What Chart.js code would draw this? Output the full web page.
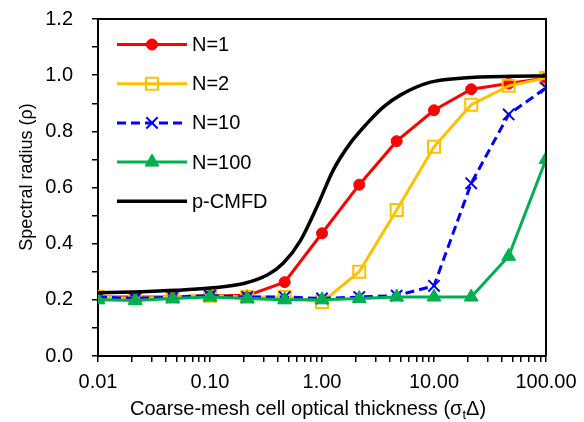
<!DOCTYPE html>
<html><head><meta charset="utf-8">
<script src="https://cdn.jsdelivr.net/npm/chart.js@4/dist/chart.umd.min.js"></script>
<style>html,body{margin:0;padding:0;background:#fff}</style>
</head><body>
<canvas id="c" width="584" height="422"></canvas>
<script>
// ---- data ----
const thickness = [0.01, 0.0215, 0.0464, 0.1, 0.215, 0.464, 1, 2.15, 4.64, 10, 21.5, 46.4, 100];
const rhoN1   = [0.21, 0.21, 0.21, 0.215, 0.215, 0.263, 0.437, 0.61, 0.765, 0.875, 0.95, 0.97, 0.99];
const rhoN2   = [0.21, 0.205, 0.21, 0.215, 0.21, 0.21, 0.192, 0.30, 0.52, 0.745, 0.895, 0.962, 0.99];
const rhoN10  = [0.21, 0.205, 0.21, 0.215, 0.21, 0.21, 0.205, 0.21, 0.215, 0.25, 0.615, 0.86, 0.955];
const rhoN100 = [0.2, 0.198, 0.205, 0.21, 0.205, 0.2, 0.2, 0.205, 0.21, 0.21, 0.21, 0.355, 0.70];
const cmfdThickness = [0.01, 0.02, 0.05, 0.1, 0.2, 0.33, 0.45, 0.64, 0.91, 1.26, 1.79, 2.54, 3.52, 5.0, 9.3, 18.3, 50, 100];
const rhoCMFD       = [0.225, 0.228, 0.234, 0.242, 0.258, 0.29, 0.33, 0.41, 0.535, 0.662, 0.758, 0.829, 0.886, 0.929, 0.975, 0.99, 0.996, 0.997];
const seriesNames = ['N=1', 'N=2', 'N=10', 'N=100', 'p-CMFD'];
const xTickValues = [0.01,0.02,0.03,0.04,0.05,0.06,0.07,0.08,0.09,
                     0.1,0.2,0.3,0.4,0.5,0.6,0.7,0.8,0.9,
                     1,2,3,4,5,6,7,8,9,
                     10,20,30,40,50,60,70,80,90,100];
const xTickLabels = {0.01:'0.01', 0.1:'0.10', 1:'1.00', 10:'10.00', 100:'100.00'};
const xTitle = ['Coarse-mesh cell optical thickness (σ', 't', 'Δ)'];
const yTitle = 'Spectral radius (ρ)';

const FONT = "'Liberation Sans', Arial, sans-serif";
const pts = (xs, ys) => xs.map((x, i) => ({x: x, y: ys[i]}));

const datasets = [
  {label: seriesNames[0], data: pts(thickness, rhoN1), borderColor:'#FF0000', backgroundColor:'#FF0000',
   borderWidth:3, pointStyle:'circle', pointRadius:5.5, pointBackgroundColor:'#FF0000', pointBorderColor:'#FF0000', pointBorderWidth:1, order:5},
  {label: seriesNames[1], data: pts(thickness, rhoN2), borderColor:'#FFC000', backgroundColor:'#FFC000',
   borderWidth:3, pointStyle:'rect', pointRadius:8.5, pointBackgroundColor:'rgba(0,0,0,0)', pointBorderColor:'#FFC000', pointBorderWidth:2, order:4},
  {label: seriesNames[2], data: pts(thickness, rhoN10), borderColor:'#0000FF', backgroundColor:'#0000FF',
   borderWidth:3, borderDash:[9,5], pointStyle:'crossRot', pointRadius:8, pointBackgroundColor:'#0000FF', pointBorderColor:'#0000FF', pointBorderWidth:2, order:3},
  {label: seriesNames[3], data: pts(thickness, rhoN100), borderColor:'#00B050', backgroundColor:'#00B050',
   borderWidth:3, pointStyle:'triangle', pointRadius:8, pointBackgroundColor:'#00B050', pointBorderColor:'#00B050', pointBorderWidth:1, order:2},
  {label: seriesNames[4], data: pts(cmfdThickness, rhoCMFD), borderColor:'#000000', backgroundColor:'#000000',
   borderWidth:3.5, pointRadius:0, cubicInterpolationMode:'monotone', order:1}
];

function drawMarker(ctx, ds, x, y) {
  const r = ds.pointRadius; if (!r) return;
  ctx.save();
  ctx.setLineDash([]);
  ctx.lineWidth = ds.pointBorderWidth;
  ctx.strokeStyle = ds.pointBorderColor;
  ctx.fillStyle = ds.pointBackgroundColor;
  ctx.beginPath();
  if (ds.pointStyle === 'circle') {
    ctx.arc(x, y, r, 0, Math.PI*2); ctx.fill(); ctx.stroke();
  } else if (ds.pointStyle === 'rect') {
    const s = Math.SQRT1_2 * r; ctx.rect(x-s, y-s, 2*s, 2*s); ctx.fill(); ctx.stroke();
  } else if (ds.pointStyle === 'crossRot') {
    const o = Math.cos(Math.PI/4) * r;
    ctx.moveTo(x-o, y-o); ctx.lineTo(x+o, y+o); ctx.moveTo(x-o, y+o); ctx.lineTo(x+o, y-o); ctx.stroke();
  } else if (ds.pointStyle === 'triangle') {
    let a = 0;
    ctx.moveTo(x + Math.sin(a)*r, y - Math.cos(a)*r);
    a += 2*Math.PI/3; ctx.lineTo(x + Math.sin(a)*r, y - Math.cos(a)*r);
    a += 2*Math.PI/3; ctx.lineTo(x + Math.sin(a)*r, y - Math.cos(a)*r);
    ctx.closePath(); ctx.fill(); ctx.stroke();
  }
  ctx.restore();
}

const decorPlugin = {
  id: 'decor',
  afterDatasetsDraw(chart) {
    const ctx = chart.ctx;
    // legend
    const rowY0 = 44.5, rowStep = 39.2, lx0 = 117, lx1 = 187, tx = 192;
    chart.data.datasets.forEach((ds, i) => {
      const y = rowY0 + i*rowStep;
      ctx.save();
      ctx.strokeStyle = ds.borderColor; ctx.lineWidth = ds.borderWidth;
      ctx.setLineDash(ds.borderDash || []);
      ctx.beginPath(); ctx.moveTo(lx0, y); ctx.lineTo(lx1, y); ctx.stroke();
      ctx.restore();
      drawMarker(ctx, ds, (lx0+lx1)/2, y);
      ctx.save();
      ctx.fillStyle = '#000'; ctx.font = '20px ' + FONT; ctx.textBaseline = 'middle'; ctx.textAlign = 'left';
      ctx.fillText(ds.label, tx, y+1);
      ctx.restore();
    });
  },
  afterDraw(chart) {
    const ctx = chart.ctx, ca = chart.chartArea;
    ctx.save();
    // top and right frame lines
    ctx.strokeStyle = '#000'; ctx.lineWidth = 2;
    ctx.beginPath(); ctx.moveTo(ca.left, ca.top); ctx.lineTo(ca.right, ca.top); ctx.lineTo(ca.right, ca.bottom); ctx.stroke();
    // x title with subscript
    ctx.fillStyle = '#000'; ctx.textBaseline = 'alphabetic'; ctx.textAlign = 'left';
    const big = '20px ' + FONT, small = '13px ' + FONT;
    ctx.font = big; const w0 = ctx.measureText(xTitle[0]).width, w2 = ctx.measureText(xTitle[2]).width;
    ctx.font = small; const w1 = ctx.measureText(xTitle[1]).width;
    let x = 308 - (w0 + w1 + w2)/2; const by = 415;
    ctx.font = big; ctx.fillText(xTitle[0], x, by); x += w0;
    ctx.font = small; ctx.fillText(xTitle[1], x, by + 4); x += w1;
    ctx.font = big; ctx.fillText(xTitle[2], x, by);
    // y title
    ctx.translate(27, 177); ctx.rotate(-Math.PI/2);
    ctx.font = '18px ' + FONT; ctx.textAlign = 'center'; ctx.textBaseline = 'middle';
    ctx.fillText(yTitle, 0, 0);
    ctx.restore();
  }
};

new Chart(document.getElementById('c'), {
  type: 'line',
  data: { datasets: datasets },
  options: {
    responsive: false, animation: false, devicePixelRatio: 1,
    layout: { padding: { top: 19, right: 38, left: 0, bottom: 0 } },
    plugins: { legend: { display: false }, tooltip: { enabled: false } },
    elements: { line: { tension: 0 } },
    scales: {
      x: {
        type: 'logarithmic', min: 0.01, max: 100,
        afterBuildTicks: s => { s.ticks = xTickValues.map(v => ({ value: v })); },
        afterFit: s => { s.height = 66; s.paddingLeft = 0; s.paddingRight = 0; },
        ticks: {
          autoSkip: false, maxRotation: 0, minRotation: 0, padding: 8, color: '#000',
          font: { family: FONT, size: 20 },
          callback: (v) => { for (const k in xTickLabels) { if (Math.abs(Number(k) - v) < 1e-9) return xTickLabels[k]; } return ''; }
        },
        grid: { drawOnChartArea: false, drawTicks: true, tickLength: 6, color: '#000', lineWidth: 1.5 },
        border: { display: true, color: '#000', width: 2 }
      },
      y: {
        type: 'linear', min: 0, max: 1.2,
        afterFit: s => { s.width = 98; s.paddingTop = 0; s.paddingBottom = 0; },
        ticks: {
          stepSize: 0.1, padding: 19, color: '#000', font: { family: FONT, size: 20 },
          callback: (v) => (Math.round(v*10) % 2 === 0) ? v.toFixed(1) : ''
        },
        grid: { drawOnChartArea: false, drawTicks: true, tickLength: 6, color: '#000', lineWidth: 1.5 },
        border: { display: true, color: '#000', width: 2 }
      }
    }
  },
  plugins: [decorPlugin]
});
</script>
</body></html>
